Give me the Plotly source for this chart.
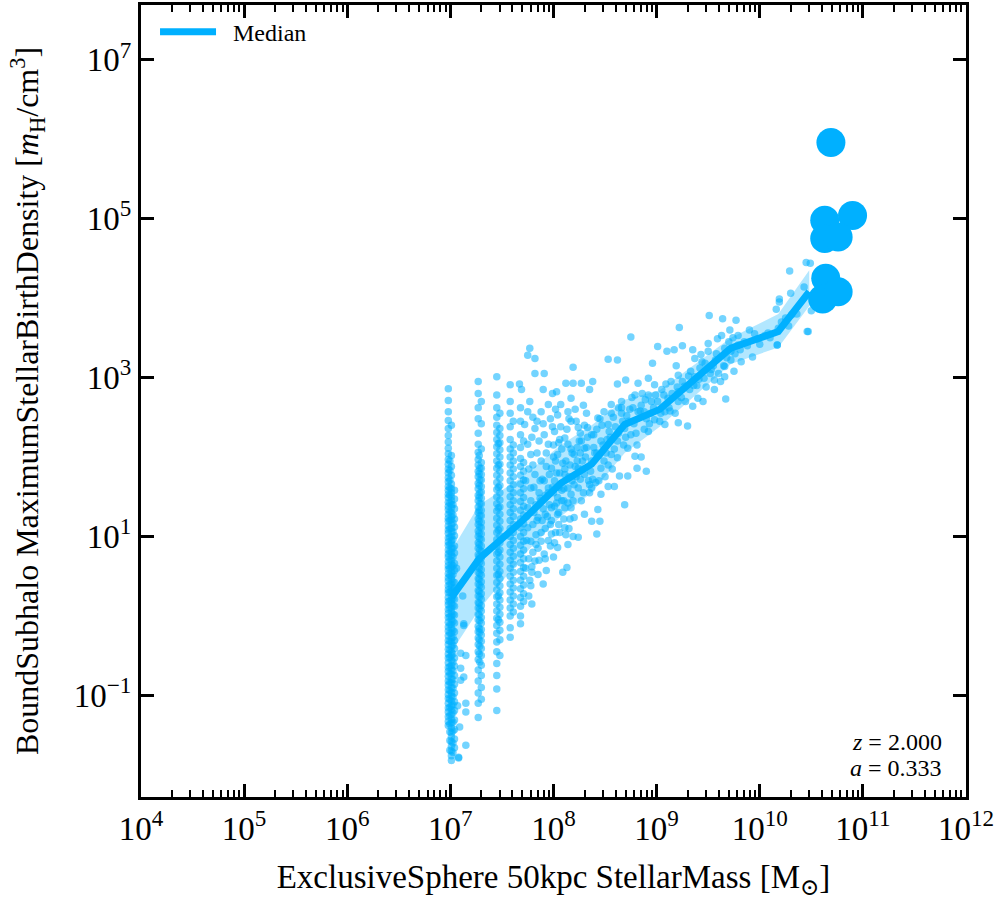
import numpy as np
import plotly.graph_objects as go

# all values are log10(stellar mass / Msun) and log10(density / (m_H cm^-3))
# quantised low-mass columns: one mass per strip, densities listed
col1a_logm = 6.98
col1a_logrho = [2.86, 2.71, 2.57, 2.46, 2.36, 2.27, 2.19, 2.11, 2.04, 1.97, 1.91, 1.85, 1.80, 1.74,
                1.69, 1.63, 1.58, 1.53, 1.49, 1.43, 1.38, 1.34, 1.28, 1.23, 1.19, 1.13, 1.08, 1.04,
                0.98, 0.93, 0.89, 0.83, 0.78, 0.74, 0.68, 0.63, 0.59, 0.53, 0.48, 0.44, 0.38, 0.33,
                0.29, 0.23, 0.18, 0.14, 0.08, 0.03, -0.02, -0.08, -0.14, -0.19, -0.25, -0.31, -0.36,
                -0.42, -0.48, -0.53, -0.59, -0.65, -0.70, -0.76, -0.82, -0.87, -0.93, -0.99, -1.04,
                -1.10, -1.16, -1.21, -1.27, -1.33, -1.38]
col1b_logm = 7.01
col1b_logrho = [2.40, 2.02, 1.88, 1.77, 1.66, 1.60, 1.55, 1.50, 1.45, 1.40, 1.36, 1.30, 1.25, 1.21,
                1.15, 1.10, 1.06, 1.00, 0.95, 0.91, 0.85, 0.80, 0.76, 0.70, 0.65, 0.61, 0.55, 0.50,
                0.46, 0.40, 0.35, 0.31, 0.25, 0.20, 0.16, 0.10, 0.05, 0.00, -0.05, -0.11, -0.16,
                -0.22, -0.28, -0.33, -0.39, -0.45, -0.50, -0.56, -0.62, -0.67, -0.73, -0.79, -0.84,
                -0.90, -0.96, -1.01, -1.07, -1.13, -1.18, -1.24, -1.30, -1.35, -1.41, -1.47, -1.52,
                -1.58, -1.64, -1.70, -1.76, -1.82]
col1c_logm = 7.04
col1c_logrho = [1.58, 1.47, 1.35, 1.22, 1.12, 1.01, 0.88, 0.79, 0.66, 0.57, 0.42, 0.35, 0.21, 0.12,
                0.01, -0.09, -0.20, -0.31, -0.41, -0.53, -0.63, -0.75, -0.86, -0.97, -1.08, -1.19,
                -1.31, -1.43, -1.55, -1.66]
col1d_logm = 6.995
col1d_logrho = [1.95, 1.83, 1.71, 1.61, 1.52, 1.42, 1.31, 1.20, 1.10, 0.99, 0.90, 0.81, 0.71, 0.60,
                0.51, 0.40, 0.30, 0.19, 0.10, -0.01, -0.11, -0.22, -0.32, -0.43, -0.52, -0.64, -0.73,
                -0.84, -0.94, -1.05, -1.15, -1.25, -1.36, -1.46, -1.57, -1.69]
col1e_logm = 7.025
col1e_logrho = [1.40, 1.27, 1.17, 1.06, 0.96, 0.85, 0.74, 0.63, 0.52, 0.43, 0.32, 0.22, 0.13, 0.02,
                -0.07, -0.18, -0.27, -0.37, -0.48, -0.58, -0.69, -0.80, -0.91, -1.02, -1.12, -1.22,
                -1.34, -1.45, -1.60, -1.72]
col2a_logm = 7.27
col2a_logrho = [2.95, 2.80, 2.62, 2.48, 2.30, 2.16, 2.06, 1.97, 1.90, 1.82, 1.75, 1.67, 1.60, 1.52,
                1.45, 1.37, 1.30, 1.22, 1.15, 1.07, 1.00, 0.92, 0.85, 0.77, 0.70, 0.62, 0.55, 0.47,
                0.40, 0.32, 0.25, 0.17, 0.10, 0.02, -0.05, -0.13, -0.20, -0.28, -0.36, -0.45, -0.55,
                -0.68, -0.82, -0.97, -1.10, -1.28]
col2b_logm = 7.30
col2b_logrho = [2.70, 2.42, 2.10, 1.93, 1.86, 1.78, 1.71, 1.63, 1.56, 1.48, 1.41, 1.33, 1.26, 1.18,
                1.11, 1.03, 0.96, 0.88, 0.81, 0.73, 0.66, 0.58, 0.51, 0.43, 0.36, 0.28, 0.21, 0.13,
                0.06, -0.02, -0.09, -0.17, -0.24, -0.32, -0.41, -0.50, -0.62, -0.75, -0.90, -1.05]
col2c_logm = 7.285
col2c_logrho = [1.86, 1.71, 1.55, 1.41, 1.26, 1.12, 0.97, 0.83, 0.68, 0.53, 0.39, 0.24, 0.09, -0.06,
                -0.21, -0.38, -0.58]
col2d_logm = 7.28
col2d_logrho = [2.02, 1.79, 1.64, 1.49, 1.33, 1.19, 1.04, 0.90, 0.75, 0.60, 0.46, 0.31, 0.16, 0.01,
                -0.16, -0.30, -0.48]
col3a_logm = 7.45
col3a_logrho = [3.01, 2.78, 2.62, 2.50, 2.40, 2.31, 2.22, 2.13, 2.04, 1.95, 1.86, 1.77, 1.68, 1.59,
                1.50, 1.41, 1.32, 1.23, 1.14, 1.05, 0.96, 0.87, 0.78, 0.69, 0.60, 0.51, 0.42, 0.33,
                0.24, 0.15, 0.06, -0.03, -0.12, -0.22, -0.33, -0.45, -0.60, -0.75, -0.92, -1.19]
col3b_logm = 7.48
col3b_logrho = [2.55, 2.36, 2.27, 2.18, 2.09, 2.00, 1.91, 1.82, 1.73, 1.64, 1.55, 1.46, 1.37, 1.28,
                1.19, 1.10, 1.01, 0.92, 0.83, 0.74, 0.65, 0.56, 0.47, 0.38, 0.29, 0.20, 0.11, 0.02,
                -0.08, -0.18, -0.30, -0.50]
col3c_logm = 7.465
col3c_logrho = [2.17, 1.90, 1.62, 1.36, 1.08, 0.80, 0.52, 0.25, -0.05]
col4a_logm = 7.58
col4a_logrho = [2.91, 2.70, 2.55, 2.38, 2.22, 2.10, 2.00, 1.90, 1.80, 1.70, 1.60, 1.50, 1.40, 1.30,
                1.20, 1.10, 1.00, 0.90, 0.80, 0.70, 0.60, 0.50, 0.40, 0.30, 0.20, 0.10, 0.00, -0.15, -0.27]
col4b_logm = 7.61
col4b_logrho = [2.45, 2.15, 2.05, 1.95, 1.85, 1.75, 1.65, 1.55, 1.45, 1.35, 1.25, 1.15, 1.05, 0.95,
                0.85, 0.75, 0.65, 0.55, 0.45, 0.35, 0.25, 0.15, 0.05]
col5a_logm = 7.68
col5a_logrho = [2.62, 2.45, 2.28, 2.12, 1.98, 1.88, 1.77, 1.66, 1.55, 1.44, 1.33, 1.22, 1.11, 1.00,
                0.89, 0.78, 0.67, 0.56, 0.45, 0.34, 0.23, 0.12, 0.00, -0.10]
col5b_logm = 7.71
col5b_logrho = [2.20, 1.93, 1.82, 1.71, 1.60, 1.49, 1.38, 1.27, 1.16, 1.05, 0.94, 0.83, 0.72, 0.61,
                0.50, 0.39, 0.28, 0.18]

# slightly heavier objects to the right of the first column
stray_logm = [7.13, 7.15, 7.10, 7.13, 7.10, 7.15, 7.07, 7.15, 7.08, 7.13, 7.10, 7.15, 7.08, 7.06, 7.12, 7.09]
stray_logrho = [-0.12, -0.50, -0.66, -0.77, -0.81, -1.21, -1.13, -1.63, -1.79, -0.10, -0.47, -1.10,
                -1.78, 0.60, 0.25, -1.40]

# the continuous cloud above ~5e7 Msun
cloud_logm = [7.77, 7.75, 7.82, 7.82, 7.91, 8.19, 7.67, 7.69, 7.90, 7.99, 8.03, 8.12, 8.19, 8.17, 8.35,
              8.38, 8.27, 8.53, 8.62, 8.62, 8.70, 8.75, 8.82, 8.96, 9.01, 9.10, 9.17, 9.25, 9.22, 9.35,
              9.43, 9.50, 9.51, 9.64, 9.77, 9.59, 9.63, 9.71, 9.79, 9.93, 10.08, 10.18, 10.17, 10.47, 10.19,
              8.79, 8.85, 8.81, 8.90, 8.69, 8.64, 8.72, 8.59, 8.53, 8.43, 8.37, 8.45, 8.24, 8.42, 8.14,
              8.09, 8.13, 8.00, 7.90, 7.78, 7.93, 9.21, 9.30, 9.35, 9.45, 9.56, 9.67, 9.40, 9.75, 9.82,
              8.98, 9.08, 8.92, 9.01, 9.11, 8.92, 9.21, 9.27, 9.37, 9.46, 9.56, 9.66, 9.66, 9.72, 9.37,
              9.50, 9.21, 8.92, 8.98, 8.79, 8.82, 8.69, 8.75, 8.62, 8.72, 8.56, 8.62, 8.66, 8.56, 8.49,
              8.43, 8.53, 8.37, 8.46, 8.30, 8.37, 8.24, 8.30, 8.46, 8.53, 8.37, 8.46, 8.27, 8.17, 8.20,
              8.30, 8.04, 8.11, 7.98, 8.04, 7.88, 7.91, 7.82, 7.85, 8.07, 8.04, 8.14, 8.17, 8.24, 8.01,
              8.11, 7.95, 8.04, 7.88, 7.98, 7.82, 7.91, 7.78, 7.88, 7.75, 7.85, 7.75, 7.78, 7.88, 7.95,
              7.82, 7.91, 7.75, 7.78, 7.75, 7.72, 8.14, 8.20, 8.11, 8.14, 8.27, 8.33, 8.24, 8.04, 7.98,
              8.11, 8.17, 7.95, 8.01,
              9.66, 9.72, 9.79, 9.85, 9.98, 10.05, 10.21, 10.31, 9.14, 9.21, 8.95, 8.88, 9.08,
              10.45, 10.49, 10.29, 10.30, 10.19, 10.16, 10.43, 10.36, 10.28, 10.50, 10.46, 10.17,
              7.80, 7.84, 7.86, 7.93, 7.96, 8.00, 8.02, 8.06, 8.08, 8.10, 8.13, 8.16, 8.18, 8.22, 8.25,
              8.28, 8.32, 8.34, 8.40, 8.42, 8.48, 8.50, 8.55, 8.58, 8.66, 8.68, 8.74, 8.78, 8.85, 8.88,
              8.94, 9.05, 9.12, 9.18, 9.25, 9.32, 9.42, 9.48, 9.55, 9.60, 9.70, 9.76, 9.88, 9.95, 10.10,
              10.25, 7.80, 7.92, 8.05, 7.85, 7.95, 8.02, 7.77, 7.80, 7.86, 7.83, 7.90, 7.97, 8.00, 8.07,
              8.21, 8.30,
              7.74, 7.76, 7.79, 7.81, 7.83, 7.86, 7.89, 7.92, 7.94, 7.97, 7.99, 8.01, 8.03, 8.05, 8.06,
              8.09, 8.10, 8.12, 8.15, 8.16, 8.19, 8.21, 8.23, 8.26, 8.29, 8.31, 8.33, 8.36, 8.39, 8.41,
              8.44, 8.47, 8.51, 8.54, 8.57, 8.60, 8.63, 8.67, 8.71, 8.76, 8.80, 8.86, 8.90, 8.97, 9.03,
              9.07, 9.15, 9.19, 9.28, 9.33, 9.39, 9.44, 9.52, 9.58, 9.62, 9.68, 9.74, 9.81, 9.90, 10.00,
              7.76, 7.79, 7.84, 7.87, 7.90, 7.93, 7.96, 7.99, 8.02, 8.06, 8.08, 8.12, 8.15, 8.18, 8.22,
              8.26, 8.29, 8.35, 8.38, 8.44, 7.73, 7.74, 7.77, 7.80, 7.73, 7.76, 7.79]
cloud_logrho = [3.37, 3.28, 3.24, 3.05, 3.05, 3.13, 2.92, 2.85, 2.85, 2.80, 2.82, 2.93, 2.93, 2.74, 2.85,
                2.95, 2.93, 3.23, 3.22, 2.92, 2.97, 3.51, 2.93, 3.18, 3.39, 3.33, 3.35, 3.40, 3.63, 3.35,
                3.29, 3.43, 3.78, 3.74, 3.72, 3.49, 3.53, 3.60, 3.53, 3.26, 3.56, 3.62, 3.41, 3.58, 3.95,
                2.01, 2.00, 1.86, 1.82, 1.40, 1.76, 1.76, 1.63, 1.63, 1.34, 1.19, 1.19, 0.99, 1.03, 0.90,
                0.55, 0.61, 0.74, 0.40, 0.38, 0.57, 2.43, 2.39, 2.64, 2.70, 2.85, 2.73, 2.74, 3.08, 3.20,
                2.47, 2.41, 2.32, 2.70, 2.74, 2.78, 2.82, 2.89, 3.01, 2.99, 2.97, 3.01, 3.14, 3.22, 3.24,
                3.33, 3.03, 2.99, 2.91, 2.78, 2.57, 2.36, 2.28, 2.20, 2.11, 2.03, 1.99, 2.70, 2.66, 2.57,
                2.49, 2.41, 2.28, 2.20, 2.11, 1.95, 1.86, 1.78, 1.86, 1.90, 1.61, 1.53, 1.45, 1.53, 1.24,
                1.28, 1.28, 1.11, 1.03, 0.86, 0.94, 0.78, 0.69, 0.52, 2.66, 2.53, 2.57, 2.45, 2.37, 2.32,
                2.24, 2.16, 2.03, 1.95, 1.86, 1.78, 1.70, 1.61, 1.45, 1.36, 1.24, 1.11, 0.94, 2.57, 2.66,
                2.36, 2.28, 2.16, 2.03, 2.57, 2.41, 2.16, 2.03, 1.78, 1.61, 2.20, 2.37, 1.61, 1.49, 1.36,
                1.36, 1.36, 1.61, 1.70,
                3.37, 3.33, 3.41, 3.45, 3.49, 3.53, 3.70, 3.79, 2.95, 2.70, 2.70, 2.57, 2.57,
                4.45, 4.44, 4.34, 4.06, 3.99, 3.86, 4.14, 3.80, 3.65, 3.84, 3.58, 3.41,
                1.90, 2.05, 1.55, 1.88, 1.40, 1.55, 1.95, 1.80, 2.10, 1.60, 2.35, 1.90, 2.05, 1.75, 2.20,
                1.95, 2.55, 1.70, 2.05, 2.35, 2.15, 1.75, 2.25, 2.50, 2.55, 2.15, 2.60, 2.42, 2.65, 2.35,
                2.55, 2.85, 2.62, 2.55, 2.95, 2.85, 3.12, 2.88, 3.15, 3.05, 3.45, 3.30, 3.40, 3.55, 3.50,
                3.75, 1.15, 1.10, 1.15, 0.85, 0.95, 1.05, 2.70, 2.50, 2.20, 1.40, 2.42, 2.48, 2.15, 2.38,
                2.60, 2.40,
                0.95, 0.72, 0.55, 1.30, 1.02, 0.70, 1.20, 1.52, 1.25, 0.88, 1.62, 1.38, 1.80, 1.62, 1.05,
                1.92, 1.45, 1.02, 1.75, 1.22, 1.45, 1.88, 2.12, 1.72, 1.55, 2.00, 2.25, 1.82, 2.12, 1.68,
                2.02, 2.40, 2.05, 2.32, 1.85, 2.38, 2.62, 2.45, 2.52, 2.75, 2.30, 2.80, 2.48, 2.62, 2.45,
                2.78, 2.80, 3.15, 2.70, 3.08, 2.90, 3.20, 3.05, 3.30, 2.95, 3.25, 3.50, 3.35, 3.60, 3.42,
                1.85, 2.25, 2.45, 1.70, 1.35, 2.05, 1.78, 2.38, 2.60, 2.22, 1.45, 1.95, 2.48, 1.70, 2.45,
                2.05, 2.65, 1.55, 1.72, 1.70, 1.70, 1.25, 0.45, 0.80, 0.60, 0.25, 0.15]

# extra points in the crowded core of the cloud, around the median
core_logm = [7.78, 7.81, 7.84, 7.87, 7.89, 7.92, 7.95, 7.98, 8.00, 8.03,
             8.05, 8.08, 8.11, 8.14, 8.17, 8.20, 8.23, 8.26, 8.28, 8.32,
             8.35, 8.39, 8.42, 8.45, 8.49, 8.52, 8.56, 8.59, 8.63, 8.66,
             8.70, 8.73, 8.77, 8.81, 8.84, 8.89, 8.93, 8.99, 9.04, 9.09,
             9.13, 9.20, 9.24, 9.31, 9.36, 9.41, 9.47, 9.53, 9.57, 9.65,
             7.79, 7.83, 7.88, 7.92, 7.97, 8.01, 8.05, 8.10, 8.15, 8.19]
core_logrho = [1.45, 1.62, 1.20, 1.48, 1.72, 1.28, 1.55, 1.20, 2.00, 1.42,
               2.18, 1.58, 1.85, 1.42, 2.10, 1.65, 1.95, 2.30, 1.85, 2.12,
               1.65, 2.28, 2.05, 2.48, 1.95, 2.22, 2.55, 2.10, 2.30, 2.62,
               2.25, 2.45, 2.62, 2.15, 2.58, 2.72, 2.42, 2.78, 2.55, 2.92,
               2.58, 2.88, 2.75, 3.02, 2.90, 2.98, 3.18, 3.10, 3.22, 3.15,
               0.62, 0.90, 1.05, 0.72, 1.15, 0.92, 1.30, 1.22, 1.10, 1.00]

# massive galaxies drawn individually
big_logm = [10.69, 10.90, 10.63, 10.63, 10.76, 10.64, 10.61, 10.76]
big_logrho = [5.96, 5.04, 4.98, 4.75, 4.77, 4.25, 3.99, 4.08]

# running median and its spread
median_logm = [7.01, 7.28, 7.70, 8.07, 8.37, 8.69, 9.03, 9.72, 10.18, 10.48]
median_logrho = [0.23, 0.72, 1.20, 1.67, 1.91, 2.41, 2.60, 3.37, 3.58, 4.08]
band_upper = [0.82, 1.40, 1.75, 2.15, 2.40, 2.72, 2.84, 3.50, 3.80, 4.35]
band_lower = [-0.45, 0.08, 0.75, 1.25, 1.55, 2.05, 2.38, 3.17, 3.38, 3.90]

BLUE = "rgb(0,176,255)"
FONT = "Liberation Serif, Times New Roman, DejaVu Serif, serif"

strips = [(col1a_logm, col1a_logrho), (col1b_logm, col1b_logrho), (col1c_logm, col1c_logrho),
          (col1d_logm, col1d_logrho), (col1e_logm, col1e_logrho),
          (col2a_logm, col2a_logrho), (col2b_logm, col2b_logrho), (col2c_logm, col2c_logrho),
          (col2d_logm, col2d_logrho),
          (col3a_logm, col3a_logrho), (col3b_logm, col3b_logrho), (col3c_logm, col3c_logrho),
          (col4a_logm, col4a_logrho), (col4b_logm, col4b_logrho),
          (col5a_logm, col5a_logrho), (col5b_logm, col5b_logrho)]
pts_x = []
pts_y = []
for m, rho in strips:
    pts_x += [m] * len(rho)
    pts_y += list(rho)
pts_x += stray_logm + cloud_logm + core_logm
pts_y += stray_logrho + cloud_logrho + core_logrho

fig = go.Figure()
fig.add_trace(go.Scatter(
    x=10 ** np.array(pts_x), y=10 ** np.array(pts_y), mode="markers",
    marker=dict(size=7.5, color=BLUE, opacity=0.55, line=dict(width=0)),
    showlegend=False, hoverinfo="skip"))

med_x = 10 ** np.array(median_logm)
fig.add_trace(go.Scatter(x=med_x, y=10 ** np.array(band_upper), mode="lines",
                         line=dict(width=0), showlegend=False, hoverinfo="skip"))
fig.add_trace(go.Scatter(x=med_x, y=10 ** np.array(band_lower), mode="lines",
                         line=dict(width=0), fill="tonexty", fillcolor="rgba(0,176,255,0.3)",
                         showlegend=False, hoverinfo="skip"))
fig.add_trace(go.Scatter(x=med_x, y=10 ** np.array(median_logrho), mode="lines",
                         line=dict(width=7, color=BLUE), name="\u00a0\u00a0Median"))
fig.add_trace(go.Scatter(
    x=10 ** np.array(big_logm), y=10 ** np.array(big_logrho), mode="markers",
    marker=dict(size=29, color=BLUE, line=dict(width=0)), showlegend=False))

x_major = [10.0 ** k for k in range(4, 13)]
x_minor = [d * 10.0 ** k for k in range(4, 12) for d in range(2, 10)]
y_major = [1e-1, 1e1, 1e3, 1e5, 1e7]
y_text = ["10<sup>\u22121</sup>", "10<sup>1</sup>", "10<sup>3</sup>", "10<sup>5</sup>", "10<sup>7</sup>"]

axis_common = dict(type="log", showgrid=False, zeroline=False, showline=True, linecolor="black",
                   linewidth=3, mirror="ticks", ticks="inside", tickcolor="black", tickwidth=2.5,
                   ticklen=13, tickfont=dict(family=FONT, size=33, color="black"))

fig.update_xaxes(range=[4, 12], tickmode="array", tickvals=x_major,
                 ticktext=["10<sup>%d</sup>" % k for k in range(4, 13)],
                 minor=dict(tickmode="array", tickvals=x_minor, ticks="inside", ticklen=7,
                            tickwidth=2, tickcolor="black", showgrid=False),
                 title=dict(text="ExclusiveSphere 50kpc StellarMass [M<sub>\u2299</sub>]",
                            font=dict(family=FONT, size=33, color="black"), standoff=22),
                 **axis_common)
fig.update_yaxes(range=[-2.28, 7.69], tickmode="array", tickvals=y_major, ticktext=y_text,
                 title=dict(text="BoundSubhalo MaximumStellarBirthDensity "
                                 "[<i>m</i><sub>H</sub>/cm<sup>3</sup>]",
                            font=dict(family=FONT, size=32, color="black"), standoff=26),
                 **axis_common)

fig.add_annotation(text="<i>z</i> = 2.000", xref="paper", yref="paper", x=0.973, y=0.070,
                   xanchor="right", yanchor="middle", showarrow=False,
                   font=dict(family=FONT, size=24, color="black"))
fig.add_annotation(text="<i>a</i> = 0.333", xref="paper", yref="paper", x=0.973, y=0.036,
                   xanchor="right", yanchor="middle", showarrow=False,
                   font=dict(family=FONT, size=24, color="black"))

fig.update_layout(
    width=996, height=900,
    margin=dict(l=141, r=30, t=2, b=103),
    plot_bgcolor="white", paper_bgcolor="white",
    font=dict(family=FONT, color="black"),
    legend=dict(x=0.017, y=0.994, xanchor="left", yanchor="top", bgcolor="rgba(0,0,0,0)",
                font=dict(family=FONT, size=24, color="black"), itemwidth=56),
)

fig.write_html("out.html", config={"displayModeBar": False},
               post_script="document.body.style.margin='0';")
